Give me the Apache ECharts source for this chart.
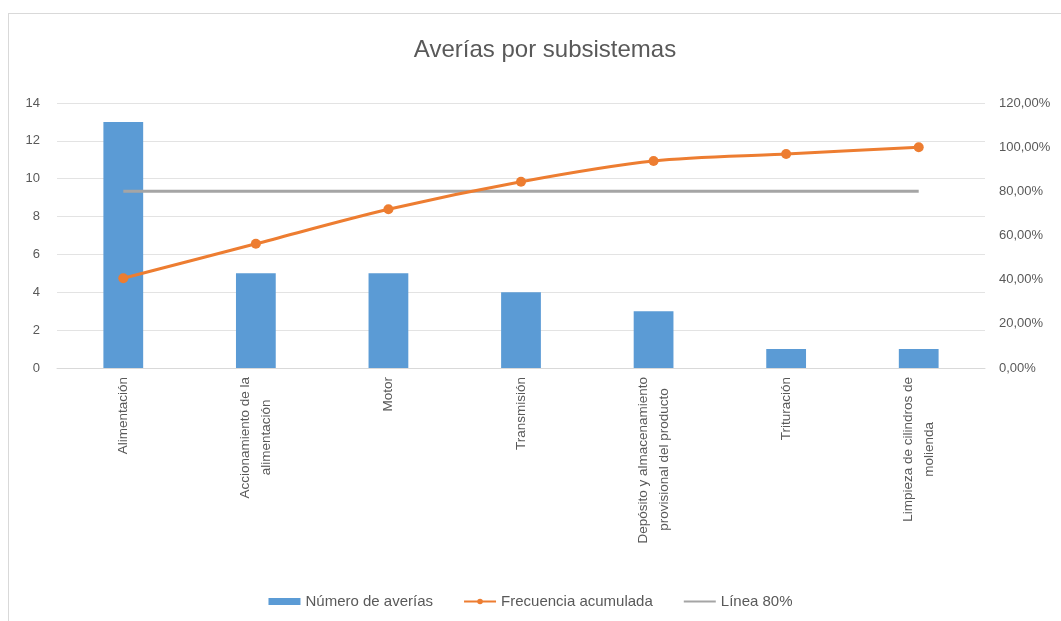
<!DOCTYPE html>
<html>
<head>
<meta charset="utf-8">
<script src="https://cdn.jsdelivr.net/npm/echarts@6/dist/echarts.min.js"></script>
<style>
  html, body { margin: 0; padding: 0; background: #ffffff; }
  #frame { position: absolute; left: 8px; top: 13px; width: 1060px; height: 620px; border: 1px solid #d9d9d9; box-sizing: border-box; }
  #chart { position: absolute; left: 0; top: 0; width: 1061px; height: 621px; }
</style>
</head>
<body>
<div id="frame"></div>
<div id="chart"></div>
<script>
// Subsystems, ordered by number of failures (Pareto)
const categories = [
  'Alimentación',
  'Accionamiento de la\nalimentación',
  'Motor',
  'Transmisión',
  'Depósito y almacenamiento\nprovisional del producto',
  'Trituración',
  'Limpieza de cilindros de\nmolienda'
];
const averias = [13, 5, 5, 4, 3, 1, 1];
const frecuenciaAcumulada = [0.4063, 0.5625, 0.7188, 0.8438, 0.9375, 0.9688, 1.0];
const linea80 = [0.8, 0.8, 0.8, 0.8, 0.8, 0.8, 0.8];

const textColor = '#595959';
const fontFamily = '"Liberation Sans", Arial, sans-serif';
const catFontSize = 13.5;

// Rotated multi-line labels are right-aligned against the axis; pad the
// shorter lines with trailing spaces so every line sits centred on the tick.
const measureCtx = document.createElement('canvas').getContext('2d');
measureCtx.font = catFontSize + 'px ' + fontFamily;
function centreLines(label) {
  const lines = label.split('\n');
  if (lines.length < 2) return label;
  const widths = lines.map(function (s) { return measureCtx.measureText(s).width; });
  const maxW = Math.max.apply(null, widths);
  const spaceW = measureCtx.measureText(' ').width;
  return lines.map(function (s, i) {
    const n = Math.round((maxW - widths[i]) / 2 / spaceW);
    return s + ' '.repeat(n);
  }).join('\n');
}

const chart = echarts.init(document.getElementById('chart'));
chart.setOption({
  animation: false,
  textStyle: { fontFamily: fontFamily },
  title: {
    text: 'Averías por subsistemas',
    left: 540,
    textAlign: 'center',
    top: 33,
    textStyle: { color: textColor, fontSize: 24, fontWeight: 'normal', fontFamily: fontFamily }
  },
  legend: {
    bottom: 7,
    left: 'center',
    itemGap: 30,
    itemWidth: 32,
    itemHeight: 7,
    textStyle: { color: textColor, fontSize: 15 },
    data: [
      { name: 'Número de averías', icon: 'rect' },
      { name: 'Frecuencia acumulada' },
      { name: 'Línea 80%', itemStyle: { opacity: 0 } }
    ]
  },
  grid: { left: 57, right: 76, top: 103, bottom: 253 },
  xAxis: {
    type: 'category',
    data: categories,
    axisLine: { lineStyle: { color: '#d9d9d9' } },
    axisTick: { show: false },
    axisLabel: {
      interval: 0,
      rotate: 90,
      margin: 9,
      color: textColor,
      fontSize: catFontSize,
      lineHeight: 21,
      formatter: centreLines
    }
  },
  yAxis: [
    {
      type: 'value',
      min: 0, max: 14, interval: 2,
      axisLine: { show: false },
      axisTick: { show: false },
      axisLabel: { color: textColor, fontSize: 13, margin: 17 },
      splitLine: { lineStyle: { color: '#e3e3e3' } }
    },
    {
      type: 'value',
      min: 0, max: 1.2, interval: 0.2,
      axisLine: { show: false },
      axisTick: { show: false },
      splitLine: { show: false },
      axisLabel: {
        color: textColor, fontSize: 13, margin: 14,
        formatter: function (v) { return (v * 100).toFixed(2).replace('.', ',') + '%'; }
      }
    }
  ],
  series: [
    {
      name: 'Número de averías',
      type: 'bar',
      data: averias,
      barWidth: '30%',
      itemStyle: { color: '#5b9bd5' }
    },
    {
      name: 'Línea 80%',
      type: 'line',
      yAxisIndex: 1,
      data: linea80,
      symbol: 'none',
      lineStyle: { color: '#a5a5a5', width: 3 },
      itemStyle: { color: '#a5a5a5' }
    },
    {
      name: 'Frecuencia acumulada',
      type: 'line',
      yAxisIndex: 1,
      data: frecuenciaAcumulada,
      smooth: 0.3,
      symbol: 'circle',
      symbolSize: 10,
      lineStyle: { color: '#ed7d31', width: 3 },
      itemStyle: { color: '#ed7d31' }
    }
  ]
});
</script>
</body>
</html>
